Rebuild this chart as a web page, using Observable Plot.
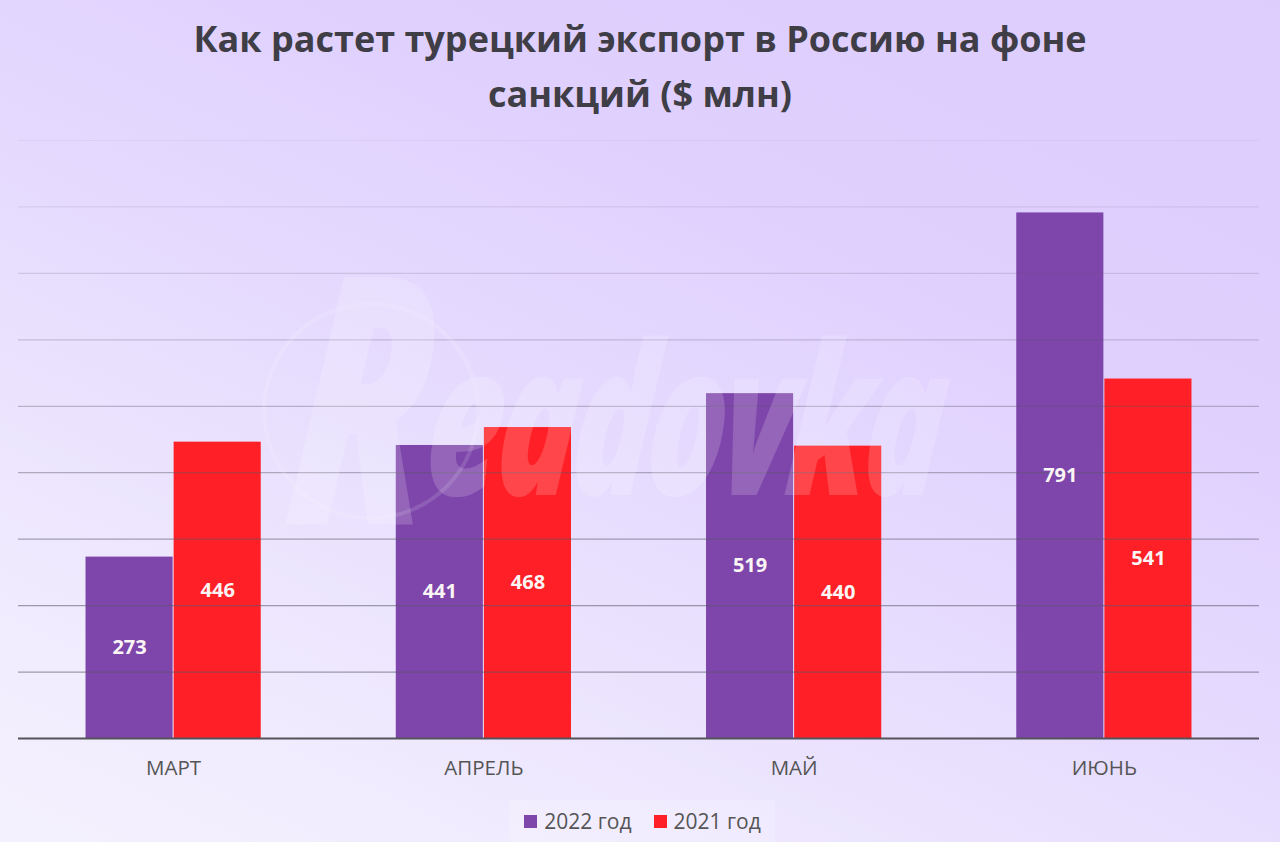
<!DOCTYPE html>
<html lang="ru"><head><meta charset="utf-8">
<script src="https://cdn.jsdelivr.net/npm/d3@7"></script>
<script src="https://cdn.jsdelivr.net/npm/@observablehq/plot@0.6"></script>
<style>
html,body{margin:0;padding:0;width:1280px;height:842px;overflow:hidden}
body{position:relative;font-family:"Open Sans",sans-serif;
background:linear-gradient(205deg,#dccdfd 0%,#dfd0fe 30%,#e6dcfe 55%,#f1ecfe 85%,#f4f1fe 100%)}
#title{height:130px;box-sizing:border-box;padding-top:11px;text-align:center;font-weight:700;font-size:36px;line-height:55px;color:#3f3d45}
#chart svg{display:block;background:transparent}
#legend{position:absolute;left:510px;top:800px;width:265px;height:42px;display:flex;align-items:center;justify-content:center;gap:22px;font-size:21px;color:#555;background:rgba(255,255,255,.2)}
#legend span.s{display:inline-block;width:13px;height:13px;margin-right:7px}
#legend div{display:flex;align-items:center}
#wm{position:absolute;left:0;top:0;width:1280px;height:842px;pointer-events:none;overflow:hidden}
#wm .t{position:absolute;left:296px;top:258px;height:265px;font-weight:800;font-style:italic;font-size:200px;line-height:265px;letter-spacing:-8px;color:#fff;opacity:.17;white-space:nowrap;transform:skewX(-6deg) scale(.66,1.05);transform-origin:left center}
#wm .t b{font-size:330px;font-weight:800;line-height:265px;vertical-align:-28px}
#wm .c{position:absolute;left:262px;top:302px;width:210px;height:210px;border:4px solid #fff;border-radius:50%;opacity:.13}
</style></head><body>
<div id="title">Как растет турецкий экспорт в Россию на фоне<br>санкций ($ млн)</div>
<div id="chart"></div>
<div id="legend"></div>
<div id="wm"><div class="c"></div><div class="t"><b>R</b>eadovka</div></div>
<script>
const months = ["МАРТ","АПРЕЛЬ","МАЙ","ИЮНЬ"];
const seriesNames = ["2022 год","2021 год"];
const values2022 = [273,441,519,791];
const values2021 = [446,468,440,541];
const colors = ["#7e46ab","#fe2026"];
const gridValues = [100,200,300,400,500,600,700,800,900];
const gridOpacity = [.55,.55,.5,.42,.35,.25,.18,.12,.07];
const barSpan = 0.284;

const rows = months.flatMap((m,i)=>[
  {i,s:0,series:seriesNames[0],value:values2022[i]},
  {i,s:1,series:seriesNames[1],value:values2021[i]}
]);
const grid = gridValues.map((v,i)=>({v,o:gridOpacity[i]}));
const left = d=>d.i+0.5+(d.s-1)*barSpan;

const plot = Plot.plot({
  width:1280,height:660,
  marginTop:10,marginBottom:52,marginLeft:18,marginRight:21,
  style:{background:"transparent",fontFamily:"'Open Sans',sans-serif"},
  x:{domain:[0,months.length]},
  y:{domain:[0,900],axis:null},
  color:{domain:seriesNames,range:colors},
  marks:[
    Plot.rectY(rows,{x1:left,x2:d=>left(d)+barSpan,y:"value",fill:"series",insetLeft:.5,insetRight:.5}),
    Plot.ruleY(grid,{y:"v",stroke:"#5a5566",strokeOpacity:"o",strokeWidth:1.2}),
    Plot.ruleY([0],{stroke:"#55535a",strokeWidth:2}),
    Plot.text(rows,{x:d=>left(d)+barSpan/2,y:d=>d.value/2,text:d=>String(d.value),fill:"#fbf5f5",fontWeight:700,fontSize:20}),
    Plot.axisX(months.map((m,i)=>i+0.5),{anchor:"bottom",tickSize:0,tickPadding:22,fontSize:20.5,fill:"#555",label:null,tickFormat:d=>months[Math.floor(d)]})
  ]
});
document.getElementById("chart").append(plot);

const lg = document.getElementById("legend");
seriesNames.forEach((n,i)=>{
  const d=document.createElement("div");
  const s=document.createElement("span");s.className="s";s.style.background=colors[i];
  d.append(s,document.createTextNode(n));lg.append(d);
});
</script></body></html>
